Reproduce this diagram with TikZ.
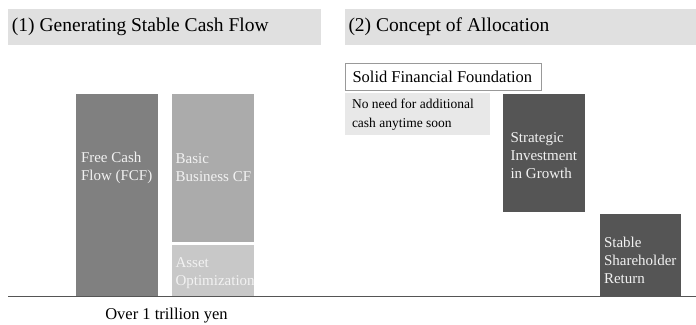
\documentclass[tikz,border=0pt]{standalone}
\usepackage{fontspec}
\setmainfont{Liberation Serif}
\usetikzlibrary{positioning}

\definecolor{headgray}{HTML}{E0E0E0}
\definecolor{fcfgray}{HTML}{808080}
\definecolor{basicgray}{HTML}{ABABAB}
\definecolor{assetgray}{HTML}{C8C8C8}
\definecolor{darkgray}{HTML}{555555}
\definecolor{notegray}{HTML}{E8E8E8}
\definecolor{bartext}{HTML}{F2F2F2}

\begin{document}
\begin{tikzpicture}
[x=1pt, y=-1pt, outer sep=0pt,
header/.style = {anchor=north west, fill=headgray, minimum height=36pt, inner sep=0pt},
headtext/.style = {anchor=west, inner sep=0pt, text=black, font=\fontsize{19.5}{22}\selectfont},
box/.style = {anchor=north west, minimum width=82pt, inner sep=0pt},
bartext/.style = {anchor=west, inner sep=0pt, align=left, text=bartext, font=\fontsize{15}{18}\selectfont},
notetext/.style = {anchor=west, inner sep=0pt, align=left, text=black},
floorline/.style = {draw=darkgray, line width=1.3pt}]
\useasboundingbox (0,0) rectangle (696,324);

% section headers
\node[header, minimum width=313pt] (head1) at (8,9) {};
\node[header, minimum width=351pt] (head2) at (345,9) {};
\node[headtext] (title1) at ([xshift=4pt]head1.west) {(1) Generating Stable Cash Flow};
\node[headtext] (title2) at ([xshift=3.5pt]head2.west) {(2) Concept of Allocation};

% (1) cash flow bars
\node[box, fill=fcfgray, minimum height=201.5pt] (fcf) at (76,94.3) {};
\node[box, fill=basicgray, minimum height=147.4pt] (basic) at (172,94.3) {};
\node[box, fill=assetgray, minimum height=51pt] (asset) at (172,245) {};
\node[bartext] (basictext) at ([xshift=3.7pt]basic.west) {Basic\\Business CF};
\node[bartext] (fcftext) at ([xshift=5pt]fcf.west |- basictext.west) {Free Cash\\Flow (FCF)};
\node[bartext] (assettext) at ([xshift=3.5pt,yshift=-3pt]asset.west) {Asset\\Optimization};

% (2) allocation
\node[box, draw=black!40, line width=0.9pt, fill=white, minimum width=196pt, minimum height=27pt] (solid) at (345,63) {};
\node[box, fill=notegray, minimum width=145pt, minimum height=42.3pt] (noneed) at (345,92.7) {};
\node[box, fill=darkgray, minimum height=117.4pt] (strategic) at (503,94.3) {};
\node[box, fill=darkgray, minimum width=81pt, minimum height=82pt] (stable) at (600,214.3) {};
\node[notetext, font=\fontsize{16.5}{19}\selectfont] (solidtext) at ([xshift=7.5pt]solid.west) {Solid Financial Foundation};
\node[notetext, font=\fontsize{13.5}{18.5}\selectfont] (noneedtext) at ([xshift=7pt,yshift=-1pt]noneed.west)
      {No need for additional\\cash anytime soon};
\node[bartext] (strategictext) at ([xshift=7.5pt,yshift=-3pt]strategic.west) {Strategic\\Investment\\in Growth};
\node[bartext] (stabletext) at ([xshift=4pt,yshift=-5pt]stable.west) {Stable\\Shareholder\\Return};

% axis and total
\coordinate (lineL) at (8,296.5);
\coordinate (lineR) at (696,296.5);
\draw[floorline] (lineL) -- (lineR);
\node[font=\fontsize{16.5}{19}\selectfont, inner sep=0pt] (total) at (166.5,316) {Over 1 trillion yen};
\end{tikzpicture}
\end{document}
